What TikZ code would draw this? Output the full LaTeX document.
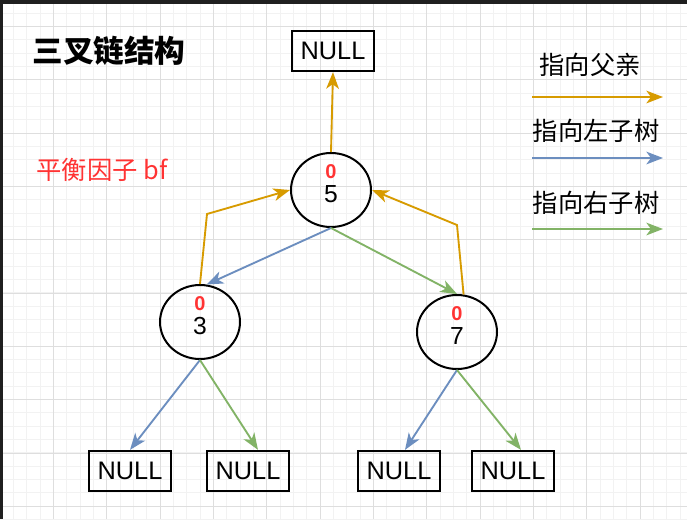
\documentclass[tikz,border=0pt]{standalone}
\usepackage{fontspec}
\setmainfont{Liberation Sans}
\newfontfamily\cjk{Noto Sans CJK SC}
\usepackage{xcolor}
\usepackage{tikz}
\usetikzlibrary{positioning,arrows.meta,calc,shapes.geometric}
\definecolor{parentc}{HTML}{D79B00}
\definecolor{leftc}{HTML}{6C8EBF}
\definecolor{rightc}{HTML}{82B366}
\definecolor{bfred}{HTML}{FF3333}
\definecolor{gridminor}{HTML}{F2F2F2}
\definecolor{gridmajor}{HTML}{DEDEDE}
\newcommand{\bfzero}{\textcolor{bfred}{\fontsize{15}{15}\selectfont\bfseries 0}}

\begin{document}
\begin{tikzpicture}[x=0.75pt,y=-0.75pt,>={Stealth[length=12.5pt,width=9.5pt,inset=3.5pt]},
  treenode/.style={draw,ellipse,line width=1.5pt,minimum width=60pt,minimum height=55.5pt,inner sep=0pt,align=center,text depth=9.8pt,font=\fontsize{18.5}{18}\selectfont},
  nullbox/.style={draw,line width=1.7pt,minimum width=61.5pt,minimum height=30pt,inner sep=0pt,font=\fontsize{19}{20}\selectfont},
  toparent/.style={->,parentc,line width=1.4pt},
  toleft/.style={->,leftc,line width=1.4pt},
  toright/.style={->,rightc,line width=1.4pt},
  legendtext/.style={font=\cjk\fontsize{19}{20}\selectfont}]
\useasboundingbox (0,0) rectangle (687,519);
\fill[white] (0,0) rectangle (687,519);
% grid
\foreach \k in {0,...,51}{
  \draw[gridminor,line width=0.75pt] (0.33+13.333*\k,0) -- (0.33+13.333*\k,519);}
\foreach \k in {0,...,39}{
  \draw[gridminor,line width=0.75pt] (0,13+13.333*\k) -- (687,13+13.333*\k);}
\foreach \k in {0,...,12}{
  \draw[gridmajor,line width=0.75pt] (0.33+53.333*\k,0) -- (0.33+53.333*\k,519);}
\foreach \k in {0,...,9}{
  \draw[gridmajor,line width=0.75pt] (0,26.33+53.333*\k) -- (687,26.33+53.333*\k);}
\fill[black!88] (0,0) rectangle (687,4);
\fill[black!88] (0,0) rectangle (3,519);

\node[font=\cjk\bfseries\fontsize{23}{24}\selectfont] (title) at (109,51) {三叉链结构};
\node[text=bfred,font=\cjk\fontsize{19}{20}\selectfont] (bflabel) at (102,170) {平衡因子 bf};

% tree
\node[nullbox] (nulltop) at (333,51) {NULL};
\node[treenode] (n5) at (331,190) {\bfzero\\5};
\node[treenode] (n3) at (200,322) {\bfzero\\3};
\node[treenode] (n7) at (457,332) {\bfzero\\7};
\node[nullbox] (null1) at (130,471) {NULL};
\node[nullbox] (null2) at (248,471) {NULL};
\node[nullbox] (null3) at (399,471) {NULL};
\node[nullbox] (null4) at (513,471) {NULL};

\coordinate (bendL) at (207,214);
\coordinate (bendR) at (457,225);
\draw[toparent] (n5.north) -- (nulltop.south);
\draw[toparent] (n3.north) -- (bendL) -- (n5.west);
\draw[toparent] (n7.80) -- (bendR) -- (n5.east);
\draw[toleft] (n5.south) -- (n3.80);
\draw[toright] (n5.south) -- (n7.north);
\draw[toleft] (n3.south) -- (null1.north);
\draw[toright] (n3.south) -- ([xshift=7.5pt]null2.north);
\draw[toleft] (n7.south) -- ([xshift=4.5pt]null3.north);
\draw[toright] (n7.south) -- ([xshift=6pt]null4.north);

% legend
\node[legendtext] (lgparent) at (590,65) {指向父亲};
\node[legendtext] (lgleft) at (596,131) {指向左子树};
\node[legendtext] (lgright) at (596,203) {指向右子树};
\coordinate (lgp1) at (532,97);  \coordinate (lgp2) at (663,97);
\coordinate (lgl1) at (532,158); \coordinate (lgl2) at (663,158);
\coordinate (lgr1) at (532,229); \coordinate (lgr2) at (663,229);
\draw[toparent] (lgp1) -- (lgp2);
\draw[toleft] (lgl1) -- (lgl2);
\draw[toright] (lgr1) -- (lgr2);
\end{tikzpicture}
\end{document}
